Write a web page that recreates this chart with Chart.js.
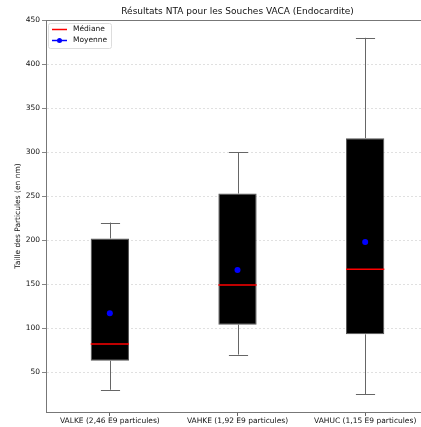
<!DOCTYPE html>
<html>
<head>
<meta charset="utf-8">
<script src="https://cdn.jsdelivr.net/npm/chart.js@4.4.1/dist/chart.umd.min.js"></script>
<style>
  html, body { margin: 0; padding: 0; background: #fff; overflow: hidden; }
  #wrap { width: 421px; height: 427px; overflow: hidden; }
</style>
</head>
<body>
<div id="wrap"><canvas id="nta" width="433" height="427"></canvas></div>
<script>
// NTA box plot — one box per strain

const categories = [
  'VALKE (2,46 E9 particules)',
  'VAHKE (1,92 E9 particules)',
  'VAHUC (1,15 E9 particules)'
];
const whiskerLow  = [30, 70, 25];
const q1          = [63, 104, 93];
const median      = [82, 149, 167];
const q3          = [202, 253, 316];
const whiskerHigh = [220, 300, 430];
const means       = [117, 166, 198];
const yTicks      = [50, 100, 150, 200, 250, 300, 350, 400, 450];

const FONT = 'DejaVu Sans';

// whiskers under the boxes, medians on top, frame + title + legend last
const boxExtras = {
  id: 'boxExtras',
  beforeDatasetsDraw(chart) {
    const { ctx, scales: { x, y } } = chart;
    const bars = chart.getDatasetMeta(0).data;
    ctx.save();
    ctx.strokeStyle = '#666';
    ctx.lineWidth = 1;
    categories.forEach((c, i) => {
      const cx = Math.round(x.getPixelForValue(i)) + 0.5;
      const half = bars[i].width / 4;
      const lo = y.getPixelForValue(whiskerLow[i]);
      const hi = y.getPixelForValue(whiskerHigh[i]);
      ctx.beginPath();
      ctx.moveTo(cx, lo); ctx.lineTo(cx, y.getPixelForValue(q1[i]));
      ctx.moveTo(cx, hi); ctx.lineTo(cx, y.getPixelForValue(q3[i]));
      ctx.moveTo(cx - half, Math.round(lo) + 0.5); ctx.lineTo(cx + half, Math.round(lo) + 0.5);
      ctx.moveTo(cx - half, Math.round(hi) + 0.5); ctx.lineTo(cx + half, Math.round(hi) + 0.5);
      ctx.stroke();
    });
    ctx.restore();
  },
  afterDatasetDraw(chart, args) {
    if (args.index !== 0) return;
    const { ctx, scales: { x, y } } = chart;
    const bars = chart.getDatasetMeta(0).data;
    ctx.save();
    ctx.strokeStyle = '#ff0000';
    ctx.lineWidth = 1.6;
    categories.forEach((c, i) => {
      const cx = x.getPixelForValue(i);
      const half = bars[i].width / 2;
      const my = y.getPixelForValue(median[i]);
      ctx.beginPath();
      ctx.moveTo(cx - half, my); ctx.lineTo(cx + half, my);
      ctx.stroke();
    });
    ctx.restore();
  },
  afterDraw(chart) {
    const { ctx, chartArea: a } = chart;
    ctx.save();
    // top spine
    ctx.strokeStyle = '#777';
    ctx.lineWidth = 1;
    ctx.beginPath();
    ctx.moveTo(a.left, Math.round(a.top) + 0.5);
    ctx.lineTo(a.right, Math.round(a.top) + 0.5);
    ctx.stroke();

    // title
    ctx.fillStyle = '#111';
    ctx.font = '9px "' + FONT + '"';
    ctx.textAlign = 'center';
    ctx.textBaseline = 'middle';
    ctx.fillText('Résultats NTA pour les Souches VACA (Endocardite)', (a.left + a.right) / 2, 12);

    // legend
    const lx = 48, ly = 23;
    ctx.fillStyle = 'rgba(255,255,255,0.85)';
    ctx.strokeStyle = '#ddd';
    ctx.beginPath();
    ctx.roundRect(lx + 0.5, ly + 0.5, 63, 25, 2);
    ctx.fill(); ctx.stroke();

    ctx.lineWidth = 1.5;
    ctx.strokeStyle = '#ff0000';
    ctx.beginPath(); ctx.moveTo(lx + 4, ly + 6.5); ctx.lineTo(lx + 19, ly + 6.5); ctx.stroke();
    ctx.strokeStyle = '#0000ff';
    ctx.beginPath(); ctx.moveTo(lx + 4, ly + 17.5); ctx.lineTo(lx + 19, ly + 17.5); ctx.stroke();
    ctx.fillStyle = '#0000ff';
    ctx.beginPath(); ctx.arc(lx + 11.5, ly + 17.5, 2.5, 0, Math.PI * 2); ctx.fill();

    ctx.fillStyle = '#111';
    ctx.font = '7.5px "' + FONT + '"';
    ctx.textAlign = 'left';
    ctx.fillText('Médiane', lx + 25, ly + 6.5);
    ctx.fillText('Moyenne', lx + 25, ly + 17.5);
    ctx.restore();
  }
};

new Chart(document.getElementById('nta'), {
  type: 'bar',
  data: {
    labels: categories,
    datasets: [
      {
        label: 'Boîte',
        data: q1.map((v, i) => [v, q3[i]]),
        backgroundColor: '#000',
        borderColor: '#555',
        borderWidth: 1,
        borderSkipped: false,
        barPercentage: 0.3,
        categoryPercentage: 1,
        order: 1
      },
      {
        type: 'line',
        label: 'Moyenne',
        data: means,
        showLine: false,
        pointRadius: 3,
        pointBackgroundColor: '#0000ff',
        pointBorderColor: '#0000ff',
        pointBorderWidth: 0,
        order: 0
      }
    ]
  },
  options: {
    responsive: false,
    animation: false,
    devicePixelRatio: 1,
    layout: { padding: { top: 20, right: 0, left: 0, bottom: 0 } },
    plugins: {
      legend: { display: false },
      title: { display: false },
      tooltip: { enabled: false }
    },
    scales: {
      x: {
        offset: true,
        grid: {
          offset: false,
          drawOnChartArea: false,
          drawTicks: true,
          tickLength: 4,
          tickColor: '#666'
        },
        border: { color: '#777', width: 1 },
        ticks: {
          color: '#111',
          padding: 1,
          maxRotation: 0,
          autoSkip: false,
          font: { family: FONT, size: 7.5 }
        },
        afterFit(scale) { scale.height = 15; }
      },
      y: {
        min: 4.75,
        max: 450.25,
        afterBuildTicks(scale) { scale.ticks = yTicks.map(v => ({ value: v })); },
        grid: {
          color: '#d9d9d9',
          lineWidth: 0.8,
          tickLength: 4,
          tickColor: '#666',
          tickBorderDash: []
        },
        border: { color: '#777', width: 1, dash: [2, 2] },
        ticks: {
          color: '#111',
          padding: 2,
          font: { family: FONT, size: 7.5 }
        },
        title: {
          display: true,
          text: 'Taille des Particules (en nm)',
          color: '#111',
          padding: { top: 14, bottom: 4 },
          font: { family: FONT, size: 7.5 }
        },
        afterFit(scale) { scale.width = 46; }
      }
    }
  },
  plugins: [boxExtras]
});
</script>
</body>
</html>
